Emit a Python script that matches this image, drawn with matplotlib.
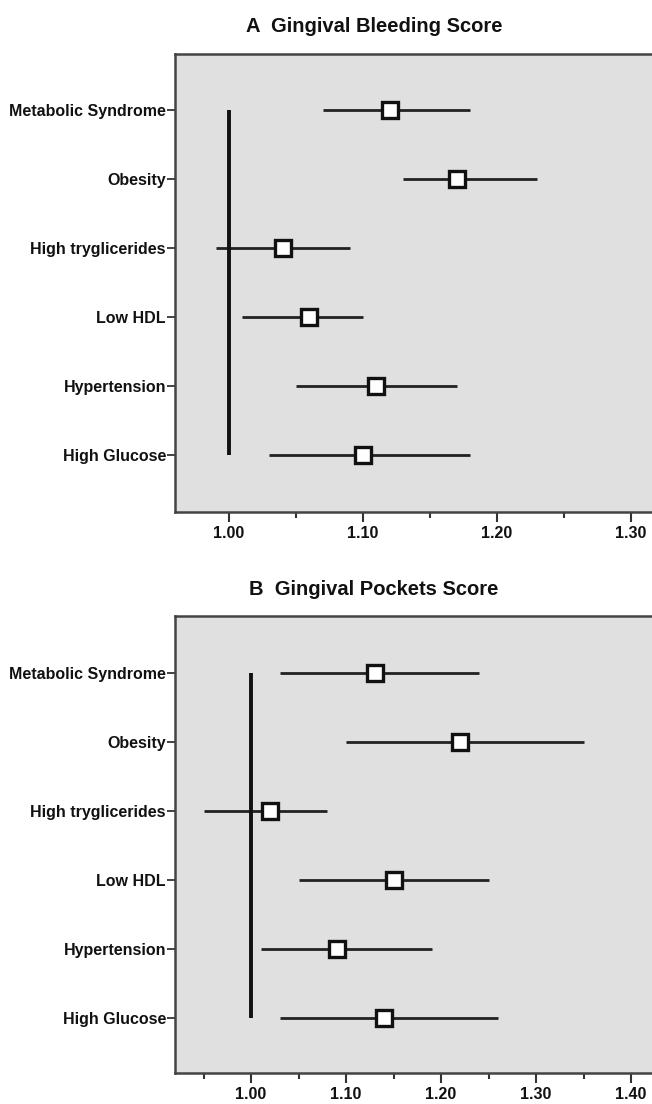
import matplotlib
matplotlib.use("Agg")
import matplotlib.pyplot as plt
from matplotlib.ticker import FixedLocator
import numpy as np

categories = ["Metabolic Syndrome", "Obesity", "High tryglicerides",
              "Low HDL", "Hypertension", "High Glucose"]

# Panel A: Gingival Bleeding Score
a_est = [1.12, 1.17, 1.04, 1.06, 1.11, 1.10]
a_lo = [1.07, 1.13, 0.99, 1.01, 1.05, 1.03]
a_hi = [1.18, 1.23, 1.09, 1.10, 1.17, 1.18]
a_xticks = [1.00, 1.10, 1.20, 1.30]
a_xticklabels = ["1.00", "1.10", "1.20", "1.30"]

# Panel B: Gingival Pockets Score
b_est = [1.13, 1.22, 1.02, 1.15, 1.09, 1.14]
b_lo = [1.03, 1.10, 0.95, 1.05, 1.01, 1.03]
b_hi = [1.24, 1.35, 1.08, 1.25, 1.19, 1.26]
b_xticks = [1.00, 1.10, 1.20, 1.30, 1.40]
b_xticklabels = ["1.00", "1.10", "1.20", "1.30", "1.40"]

plt.rcParams['font.family'] = ['Liberation Sans', 'DejaVu Sans']

W, H = 652, 1104
fig = plt.figure(figsize=(W / 100, H / 100), dpi=100)

def px_axes(left, top, right, bottom):
    return fig.add_axes([left / W, 1 - bottom / H, (right - left) / W, (bottom - top) / H])

def panel(ax, est, lo, hi, xlim, ylim, xticks, xticklabels, minor, title, title_base):
    y = np.arange(len(categories))
    ax.set_facecolor("#e0e0e0")
    ax.hlines(y, lo, hi, color="#222222", lw=2.0, zorder=2)
    ax.vlines(1.0, y[0], y[-1], color="#111111", lw=2.8, zorder=2)
    ax.plot(est, y, linestyle="none", marker="s", markersize=11,
            markerfacecolor="white", markeredgecolor="#111111",
            markeredgewidth=2.4, zorder=3)
    ax.set_xlim(*xlim)
    ax.set_ylim(*ylim)
    ax.set_yticks(y)
    ax.set_yticklabels(categories, fontsize=11.5, fontweight="bold", color="#111111")
    ax.xaxis.set_major_locator(FixedLocator(xticks))
    ax.set_xticklabels(xticklabels, fontsize=11.5, fontweight="bold", color="#111111")
    ax.xaxis.set_minor_locator(FixedLocator(minor))
    ax.tick_params(axis="x", which="major", length=7, width=1.5, color="#333333", pad=3)
    ax.tick_params(axis="x", which="minor", length=4, width=1.5, color="#333333")
    ax.tick_params(axis="y", which="major", length=6, width=1.3, color="#333333", pad=0.5)
    for s in ax.spines.values():
        s.set_color("#444444")
        s.set_linewidth(1.8)
    fig.text(374 / W, 1 - title_base / H, title, ha="center", va="baseline",
             fontsize=14.5, fontweight="bold", color="#111111")

axA = px_axes(175, 54, 660, 512)
panel(axA, a_est, a_lo, a_hi, (0.9597, 1.3216), (5.83, -0.81),
      a_xticks, a_xticklabels, [1.05, 1.15, 1.25],
      "A  Gingival Bleeding Score", 32)

axB = px_axes(175, 616, 660, 1073)
panel(axB, b_est, b_lo, b_hi, (0.92, 1.4305), (5.8, -0.83),
      b_xticks, b_xticklabels, [0.95, 1.05, 1.15, 1.25, 1.35],
      "B  Gingival Pockets Score", 595)

fig.savefig("out.png", dpi=100, facecolor="white")
